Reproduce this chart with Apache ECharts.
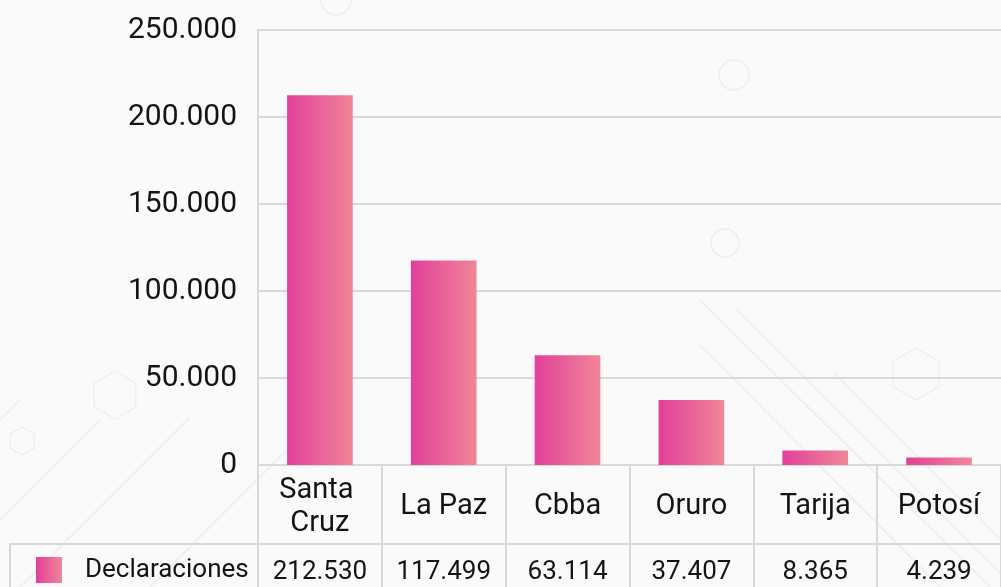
<!DOCTYPE html>
<html>
<head>
<meta charset="utf-8">
<script src="https://cdn.jsdelivr.net/npm/echarts@6/dist/echarts.min.js"></script>
<style>
html,body{margin:0;padding:0;background:#fafafa;}
#chart{width:1001px;height:587px;}
</style>
</head>
<body>
<div id="chart"></div>
<script>
const categories = ['Santa Cruz', 'La Paz', 'Cbba', 'Oruro', 'Tarija', 'Potosí'];
const declaraciones = [212530, 117499, 63114, 37407, 8365, 4239];
const seriesName = 'Declaraciones';
const yTicks = { min: 0, max: 250000, interval: 50000 };

const fmt = v => String(v).replace(/\B(?=(\d{3})+(?!\d))/g, '.');
const LINE = '#d9d9d9';
const TXT = '#141414';
const FONT = 'Roboto';

const chart = echarts.init(document.getElementById('chart'));

function hexagon(cx, cy, r) {
  const pts = [];
  for (let i = 0; i < 6; i++) {
    const a = Math.PI / 6 + i * Math.PI / 3;
    pts.push([cx + r * Math.cos(a), cy + r * Math.sin(a)]);
  }
  return pts;
}
const deco = 'rgba(0,0,0,0.045)';
const decorations = [
  { type: 'circle', z: -10, silent: true, shape: { cx: 336, cy: 0, r: 15 }, style: { fill: null, stroke: deco, lineWidth: 2 } },
  { type: 'circle', z: -10, silent: true, shape: { cx: 734, cy: 75, r: 15 }, style: { fill: null, stroke: deco, lineWidth: 2 } },
  { type: 'circle', z: -10, silent: true, shape: { cx: 725, cy: 243, r: 14 }, style: { fill: null, stroke: deco, lineWidth: 2 } },
  { type: 'polygon', z: -10, silent: true, shape: { points: hexagon(115, 395, 24) }, style: { fill: null, stroke: deco, lineWidth: 1.5 } },
  { type: 'polygon', z: -10, silent: true, shape: { points: hexagon(22, 441, 14) }, style: { fill: null, stroke: deco, lineWidth: 1.5 } },
  { type: 'polygon', z: -10, silent: true, shape: { points: hexagon(916, 374, 26) }, style: { fill: null, stroke: deco, lineWidth: 1.5 } },
  { type: 'line', z: -10, silent: true, shape: { x1: 700, y1: 300, x2: 990, y2: 587 }, style: { stroke: deco, lineWidth: 2 } },
  { type: 'line', z: -10, silent: true, shape: { x1: 735, y1: 308, x2: 1001, y2: 574 }, style: { stroke: deco, lineWidth: 2 } },
  { type: 'line', z: -10, silent: true, shape: { x1: 834, y1: 373, x2: 1001, y2: 540 }, style: { stroke: deco, lineWidth: 2 } },
  { type: 'line', z: -10, silent: true, shape: { x1: 700, y1: 345, x2: 940, y2: 587 }, style: { stroke: deco, lineWidth: 2 } },
  { type: 'line', z: -10, silent: true, shape: { x1: 0, y1: 420, x2: 20, y2: 400 }, style: { stroke: deco, lineWidth: 2 } },
  { type: 'line', z: -10, silent: true, shape: { x1: 0, y1: 520, x2: 100, y2: 420 }, style: { stroke: deco, lineWidth: 2 } },
  { type: 'line', z: -10, silent: true, shape: { x1: 20, y1: 587, x2: 190, y2: 417 }, style: { stroke: deco, lineWidth: 2 } },
  { type: 'line', z: -10, silent: true, shape: { x1: 150, y1: 587, x2: 290, y2: 447 }, style: { stroke: deco, lineWidth: 2 } },
  // legend cell border of the data table
  { type: 'rect', z: 5, silent: true, shape: { x: 10, y: 544, width: 248, height: 60 }, style: { fill: null, stroke: LINE, lineWidth: 2 } }
];

const option = {
  backgroundColor: '#fafafa',
  animation: false,
  textStyle: { fontFamily: FONT },
  graphic: decorations,
  legend: {
    data: [seriesName],
    left: 31, top: 552,
    itemWidth: 26, itemHeight: 26,
    icon: 'rect',
    textStyle: { fontFamily: FONT, fontSize: 26, color: TXT, padding: [0, 0, 0, 18] }
  },
  grid: [
    { left: 258, top: 30, width: 755, height: 435 },
    { left: 258, top: 465, width: 755, height: 122 },
    { left: 258, top: 544, width: 755, height: 43 }
  ],
  xAxis: [
    {
      type: 'category', gridIndex: 0, data: categories,
      axisLine: { show: true, onZero: false, lineStyle: { color: LINE, width: 2 } },
      axisTick: { show: false },
      splitLine: { show: false },
      axisLabel: {
        interval: 0, margin: 42, verticalAlign: 'middle',
        fontFamily: FONT, fontSize: 29, color: TXT, lineHeight: 33,
        width: 120, overflow: 'break'
      }
    },
    {
      type: 'category', gridIndex: 1, data: categories,
      axisLine: { show: false }, axisTick: { show: false }, axisLabel: { show: false },
      splitLine: { show: true, interval: 0, lineStyle: { color: LINE, width: 2 } }
    },
    {
      type: 'category', gridIndex: 2, data: categories, position: 'top',
      axisLine: { show: true, onZero: false, lineStyle: { color: LINE, width: 2 } },
      axisTick: { show: false },
      splitLine: { show: false },
      axisLabel: {
        interval: 0, inside: true, margin: 28, verticalAlign: 'middle',
        fontFamily: FONT, fontSize: 26, color: TXT,
        formatter: (v, i) => fmt(declaraciones[i])
      }
    }
  ],
  yAxis: [
    {
      type: 'value', gridIndex: 0,
      min: yTicks.min, max: yTicks.max, interval: yTicks.interval,
      axisLine: { show: true, lineStyle: { color: LINE, width: 2 } },
      axisTick: { show: false },
      splitLine: { show: true, lineStyle: { color: LINE, width: 2 } },
      axisLabel: { fontFamily: FONT, fontSize: 30, color: TXT, margin: 21, formatter: v => fmt(v) }
    },
    { type: 'value', gridIndex: 1, show: false },
    { type: 'value', gridIndex: 2, show: false }
  ],
  series: [
    {
      name: seriesName, type: 'bar', xAxisIndex: 0, yAxisIndex: 0,
      data: declaraciones,
      barWidth: '53%',
      itemStyle: {
        color: {
          type: 'linear', x: 0, y: 0, x2: 1, y2: 0,
          colorStops: [{ offset: 0, color: '#e1409a' }, { offset: 1, color: '#f18598' }]
        }
      }
    }
  ]
};
chart.setOption(option);
</script>
</body>
</html>
